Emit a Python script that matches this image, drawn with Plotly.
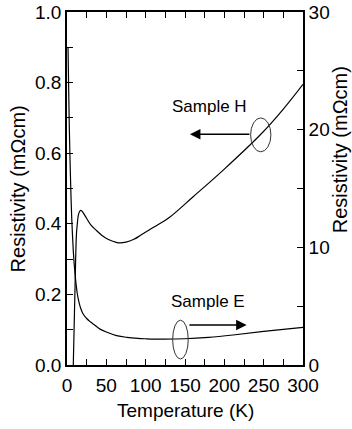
import plotly.graph_objects as go

# Sample H, left axis (mOhm cm)
temp_h = [8.0, 9.0, 10.0, 11.0, 12.0, 13.1, 14.5, 16.0, 17.4, 19.0, 21.5, 25.0, 30.0, 37.0,
          45.0, 52.0, 60.0, 66.0, 75.0, 85.0, 94.0, 110.0, 130.0, 160.0, 200.0, 247.0, 275.0, 300.0]
rho_h = [0.0, 0.1, 0.2, 0.3, 0.37, 0.40, 0.425, 0.435, 0.438, 0.436, 0.428, 0.415, 0.398, 0.382,
         0.366, 0.356, 0.349, 0.346, 0.348, 0.356, 0.368, 0.39, 0.418, 0.476, 0.555, 0.655, 0.725, 0.795]

# Sample E, right axis (mOhm cm)
temp_e = [1.3, 2.0, 3.0, 4.0, 5.0, 6.0, 7.0, 8.0, 9.0, 10.0, 11.5, 13.0, 15.0, 17.0, 20.0, 25.0,
          30.0, 35.0, 42.0, 50.0, 63.0, 76.0, 90.0, 100.0, 120.0, 150.0, 180.0, 211.0, 250.0, 300.0]
rho_e = [27.0, 24.0, 20.0, 17.0, 14.5, 12.5, 11.0, 9.7, 8.7, 7.9, 6.9, 6.1, 5.4, 4.9, 4.4, 3.95,
         3.65, 3.4, 3.05, 2.8, 2.5, 2.35, 2.26, 2.23, 2.2, 2.23, 2.35, 2.55, 2.85, 3.2]

FONT = "Liberation Sans, Arial, sans-serif"
TICK = 19

fig = go.Figure()
fig.add_trace(go.Scatter(x=temp_h, y=rho_h, mode="lines", line=dict(color="black", width=1.2, shape="spline"),
                         yaxis="y", showlegend=False))
fig.add_trace(go.Scatter(x=temp_e, y=rho_e, mode="lines", line=dict(color="black", width=1.2, shape="spline"),
                         yaxis="y2", showlegend=False))

# ellipses marking each curve
fig.add_shape(type="circle", xref="x", yref="y", x0=233.4, x1=259.2, y0=0.604, y1=0.70,
              line=dict(color="#333", width=1))
fig.add_shape(type="circle", xref="x", yref="y", x0=134.3, x1=154.1, y0=0.017, y1=0.127,
              line=dict(color="#333", width=1))

# arrows
fig.add_annotation(x=156.3, y=0.654, ax=233.8, ay=0.654, xref="x", yref="y", axref="x", ayref="y",
                   showarrow=True, arrowhead=2, arrowsize=1.4, arrowwidth=1.5, arrowcolor="black", text="")
fig.add_annotation(x=228.3, y=0.113, ax=153.7, ay=0.113, xref="x", yref="y", axref="x", ayref="y",
                   showarrow=True, arrowhead=2, arrowsize=1.4, arrowwidth=1.5, arrowcolor="black", text="")

fig.add_annotation(x=181.7, y=0.732, xref="x", yref="y", text="Sample H", showarrow=False,
                   font=dict(size=17, color="black", family=FONT))
fig.add_annotation(x=179.2, y=0.179, xref="x", yref="y", text="Sample E", showarrow=False,
                   font=dict(size=17, color="black", family=FONT))

# axis titles placed as annotations
fig.add_annotation(x=-0.208, y=0.5, xref="paper", yref="paper", text="Resistivity (mΩcm)",
                   textangle=-90, showarrow=False, xanchor="center", yanchor="middle",
                   font=dict(size=20, color="black", family=FONT))
fig.add_annotation(x=1.155, y=0.61, xref="paper", yref="paper", text="Resistivity (mΩcm)",
                   textangle=-90, showarrow=False, xanchor="center", yanchor="middle",
                   font=dict(size=20, color="black", family=FONT))
fig.add_annotation(x=0.5, y=-0.13, xref="paper", yref="paper", text="Temperature (K)",
                   showarrow=False, xanchor="center", yanchor="middle",
                   font=dict(size=TICK, color="black", family=FONT))

axis_common = dict(showgrid=False, zeroline=False, showline=True, linecolor="black", linewidth=1.6,
                   ticks="inside", ticklen=6, tickwidth=1.3, tickcolor="black", automargin=False,
                   ticklabeloverflow="allow",
                   tickfont=dict(size=TICK, color="black", family=FONT))

fig.update_layout(
    width=352, height=429,
    margin=dict(l=67, r=49, t=12, b=64),
    plot_bgcolor="white", paper_bgcolor="white",
    font=dict(family=FONT, color="black"),
    xaxis=dict(range=[0, 300], dtick=50, mirror="ticks", ticklabelstandoff=2,
               minor=dict(ticks="inside", dtick=25, ticklen=6, tickcolor="black"),
               **axis_common),
    yaxis=dict(range=[0, 1], dtick=0.2, tickformat=".1f",
               minor=dict(ticks="inside", dtick=0.1, ticklen=6, tickcolor="black"),
               **axis_common),
    yaxis2=dict(range=[0, 30], dtick=10, overlaying="y", side="right",
                minor=dict(ticks="inside", dtick=5, ticklen=6, tickcolor="black"),
                **axis_common),
)

# drop the default 8px page margin so the figure fills the window
fig.write_html("out.html", config={"displayModeBar": False},
               post_script="document.body.style.margin='0px';")
